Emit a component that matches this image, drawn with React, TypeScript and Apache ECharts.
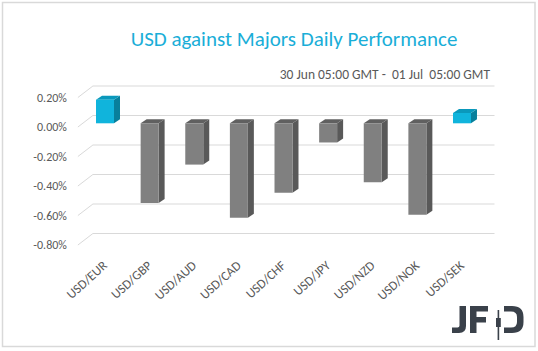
import React, { useEffect, useRef } from "react";
import * as echarts from "echarts";

const categories = ["USD/EUR", "USD/GBP", "USD/AUD", "USD/CAD", "USD/CHF", "USD/JPY", "USD/NZD", "USD/NOK", "USD/SEK"];
const values = [0.16, -0.54, -0.28, -0.64, -0.47, -0.13, -0.4, -0.62, 0.07];
const yTicks = [0.2, 0, -0.2, -0.4, -0.6, -0.8];
const titleText = "USD against Majors Daily Performance";
const subtitleText = "30 Jun 05:00 GMT -  01 Jul  05:00 GMT";

const FONT = "Calibri, Carlito, Lato, 'Noto Sans', sans-serif";
const LOGO_D =
  "M459.5,306 L466,306 L466,326 Q466,333 459,333 L452,333 L452,327.5 L457.5,327.5 Q459.5,327.5 459.5,325.5 Z " +
  "M470,306 L488,306 L488,311.5 L476.5,311.5 L476.5,317 L486,317 L486,322.5 L476.5,322.5 L476.5,333 L470,333 Z " +
  "M497.6,310 L499.2,310 L499.2,318 L500.8,318 L500.8,327 L499.2,327 L499.2,340 L497.6,340 L497.6,327 L496,327 L496,318 L497.6,318 Z " +
  "M504,306 L512,306 Q523.5,306 523.5,317 L523.5,322 Q523.5,333 512,333 L504,333 L504,327.5 L511,327.5 Q517,327.5 517,322 L517,317 Q517,311.5 511,311.5 L504,311.5 Z";

let registered = false;

const FRONT_DX = -4.8;
const FRONT_DY = 3.7;
const BACK_DX = 10.2;
const BACK_DY = -7.8;
const BAR_DX = 6;
const BAR_DY = -4;

export default function App() {
  const ref = useRef<HTMLDivElement>(null);
  useEffect(() => {
    if (!ref.current) return;
    if (!registered) {
      echarts.graphic.registerShape("logo", echarts.graphic.extendPath(LOGO_D, {}));
      registered = true;
    }
    const chart = echarts.init(ref.current, undefined, { renderer: "svg" });
    const gLeft = 82.7;
    const gTop = 93.8;
    const gW = 401.6;
    const gH = 147.5;
    const yAxisBase = { type: "value", min: -0.8, max: 0.2, interval: 0.2 };
    chart.setOption({
      animation: false,
      backgroundColor: "#ffffff",
      grid: [
        { left: gLeft, top: gTop, width: gW, height: gH },
        { left: gLeft + FRONT_DX, top: gTop + FRONT_DY, width: gW, height: gH },
      ],
      xAxis: [
        {
          type: "category",
          gridIndex: 0,
          data: categories,
          axisLine: { show: false },
          axisTick: { show: false },
          axisLabel: {
            rotate: 42,
            margin: 22,
            interval: 0,
            color: "#595959",
            fontSize: 13,
            fontFamily: FONT,
          },
        },
        { type: "category", gridIndex: 1, data: categories, show: false },
      ],
      yAxis: [
        {
          ...yAxisBase,
          gridIndex: 0,
          axisLabel: { show: false },
          axisLine: { show: false },
          axisTick: { show: false },
          splitLine: { show: false },
        },
        {
          ...yAxisBase,
          gridIndex: 1,
          axisLine: { show: false },
          axisTick: { show: false },
          splitLine: { show: false },
          axisLabel: {
            margin: 11,
            color: "#595959",
            fontSize: 12,
            fontFamily: FONT,
            formatter: (v: number) => v.toFixed(2) + "%",
          },
        },
      ],
      series: [
        {
          type: "custom",
          xAxisIndex: 0,
          yAxisIndex: 0,
          data: yTicks.map((v) => [0, v]),
          silent: true,
          z: 1,
          renderItem: (params: any, api: any) => {
            const v = api.value(1);
            const c = api.coord([0, v]);
            const last = api.coord([categories.length - 1, v]);
            const bw = api.size([1, 0])[0];
            const left = c[0] - bw / 2;
            const right = last[0] + bw / 2;
            const style = { stroke: "#d9d9d9", lineWidth: 1, fill: "none" };
            return {
              type: "group",
              children: [
                {
                  type: "line",
                  shape: { x1: left + FRONT_DX, y1: c[1] + FRONT_DY, x2: left + BACK_DX, y2: c[1] + BACK_DY },
                  style,
                },
                {
                  type: "line",
                  shape: { x1: left + BACK_DX, y1: c[1] + BACK_DY, x2: right + BACK_DX, y2: c[1] + BACK_DY },
                  style,
                },
              ],
            };
          },
        },
        {
          type: "custom",
          xAxisIndex: 0,
          yAxisIndex: 0,
          data: values.map((v, i) => [i, v]),
          z: 2,
          renderItem: (params: any, api: any) => {
            const i = api.value(0);
            const v = api.value(1);
            const p0 = api.coord([i, 0]);
            const p1 = api.coord([i, v]);
            const w = api.size([1, 0])[0] * 0.403;
            const l = p0[0] - w / 2;
            const r = p0[0] + w / 2;
            const yT = Math.min(p0[1], p1[1]);
            const yB = Math.max(p0[1], p1[1]);
            const pos = v > 0;
            const front = pos ? "#10b4dc" : "#808080";
            const side = pos ? "#08809c" : "#595959";
            const top = pos ? "#0a98bb" : "#606060";
            return {
              type: "group",
              children: [
                {
                  type: "polygon",
                  shape: { points: [[r, yT], [r + BAR_DX, yT + BAR_DY], [r + BAR_DX, yB + BAR_DY], [r, yB]] },
                  style: { fill: side },
                },
                {
                  type: "polygon",
                  shape: { points: [[l, yT], [l + BAR_DX, yT + BAR_DY], [r + BAR_DX, yT + BAR_DY], [r, yT]] },
                  style: { fill: top },
                },
                {
                  type: "rect",
                  shape: { x: l, y: yT, width: w, height: yB - yT },
                  style: { fill: front },
                },
              ],
            };
          },
        },
      ],
      graphic: [
        {
          type: "rect",
          shape: { x: 2.5, y: 2.5, width: 532.5, height: 344 },
          style: { fill: "none", stroke: "#d9d9d9", lineWidth: 1.5 },
          silent: true,
        },
        {
          type: "text",
          x: 294,
          y: 39,
          style: {
            text: titleText,
            fill: "#1aaed8",
            fontSize: 21,
            fontFamily: FONT,
            textAlign: "center",
            textVerticalAlign: "middle",
          },
        },
        {
          type: "text",
          x: 490,
          y: 74,
          style: {
            text: subtitleText,
            fill: "#595959",
            fontSize: 13.5,
            fontFamily: FONT,
            textAlign: "right",
            textVerticalAlign: "middle",
          },
        },
        {
          type: "logo",
          x: 0,
          y: 0,
          style: { fill: "#3a414a" },
        },
      ],
    });
    return () => chart.dispose();
  }, []);
  return <div ref={ref} style={{ position: "fixed", left: 0, top: 0, width: 538, height: 351 }} />;
}
